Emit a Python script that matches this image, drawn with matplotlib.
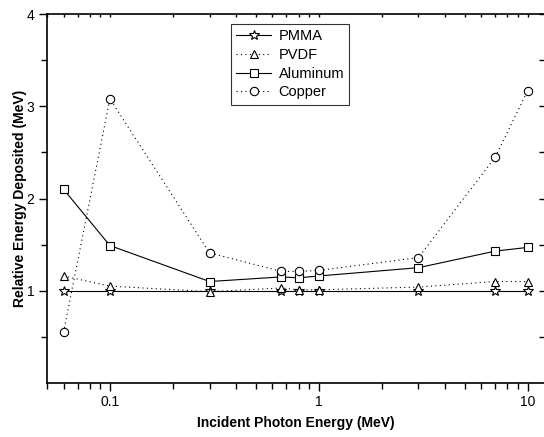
import matplotlib
matplotlib.use("Agg")
import matplotlib.pyplot as plt
from matplotlib.ticker import FixedLocator, NullFormatter, LogLocator

plt.rcParams['font.family'] = ['Liberation Sans', 'DejaVu Sans']

# incident photon energy (MeV)
energy = [0.06, 0.1, 0.3, 0.662, 0.8, 1.0, 3.0, 7.0, 10.0]

# relative energy deposited (MeV)
pmma = [1.0, 1.0, 1.0, 1.0, 1.0, 1.0, 1.0, 1.0, 1.0]
pvdf = [1.16, 1.05, 0.99, 1.03, 1.01, 1.01, 1.04, 1.10, 1.10]
aluminum = [2.10, 1.49, 1.10, 1.15, 1.14, 1.16, 1.25, 1.43, 1.47]
copper = [0.55, 3.08, 1.41, 1.21, 1.21, 1.22, 1.36, 2.45, 3.17]

series_names = ["PMMA", "PVDF", "Aluminum", "Copper"]

W, H = 544, 437
fig = plt.figure(figsize=(W / 100, H / 100), dpi=100)
ax = fig.add_axes([47 / W, 1 - 383 / H, (545 - 47) / W, (383 - 14) / H])

common = dict(color="black", markerfacecolor="white", markeredgecolor="black",
              markeredgewidth=0.8, markersize=6, linewidth=0.8)
ax.plot(energy, pmma, linestyle="-", marker="*", markersize=7, label=series_names[0],
        **{k: v for k, v in common.items() if k != "markersize"})
ax.plot(energy, pvdf, linestyle=(0, (1, 3)), marker="^", label=series_names[1], **common)
ax.plot(energy, aluminum, linestyle="-", marker="s", label=series_names[2], **common)
ax.plot(energy, copper, linestyle=(0, (1, 3)), marker="o", label=series_names[3], **common)

ax.set_xscale("log")
ax.set_xlim(0.05, 12.1)
ax.set_ylim(0, 4)

ax.set_xticks([0.1, 1, 10])
ax.set_xticklabels(["0.1", "1", "10"])
ax.xaxis.set_minor_locator(LogLocator(base=10, subs=range(2, 10)))
ax.xaxis.set_minor_formatter(NullFormatter())

ax.yaxis.set_major_locator(FixedLocator([1, 2, 3, 4]))
ax.yaxis.set_minor_locator(FixedLocator([0.5, 1.5, 2.5, 3.5]))
ax.set_yticklabels(["1", "2", "3", "4"])

for s in ax.spines.values():
    s.set_linewidth(1.2)

ax.tick_params(axis="both", which="major", labelsize=10, width=1.0, length=6,
               direction="out", top=True, right=True)
ax.tick_params(axis="both", which="minor", width=1.0, length=4,
               direction="out", top=True, right=True)
ax.tick_params(axis="x", which="major", pad=3)
ax.tick_params(axis="y", which="major", pad=3)
# top and right ticks point inward
for t in ax.xaxis.get_major_ticks() + ax.xaxis.get_minor_ticks():
    t.tick2line.set_marker(matplotlib.lines.TICKDOWN)
    t.tick2line.set_markersize(2)
for t in ax.yaxis.get_major_ticks() + ax.yaxis.get_minor_ticks():
    t.tick2line.set_marker(matplotlib.lines.TICKLEFT)
    t.tick2line.set_markersize(4)

ax.set_xlabel("Incident Photon Energy (MeV)", fontsize=10, fontweight="bold", labelpad=5)
ax.set_ylabel("Relative Energy Deposited (MeV)", fontsize=10, fontweight="bold", labelpad=0)

leg = ax.legend(loc="upper left", bbox_to_anchor=((224 - 47) / (545 - 47), 1 - 3 / 369),
                numpoints=1, fontsize=10.5, handlelength=2.4, handletextpad=0.5,
                labelspacing=0.32, borderpad=0.35, frameon=True, fancybox=False)
leg.get_frame().set_edgecolor("black")
leg.get_frame().set_linewidth(0.8)

fig.savefig("out.png", dpi=100)
